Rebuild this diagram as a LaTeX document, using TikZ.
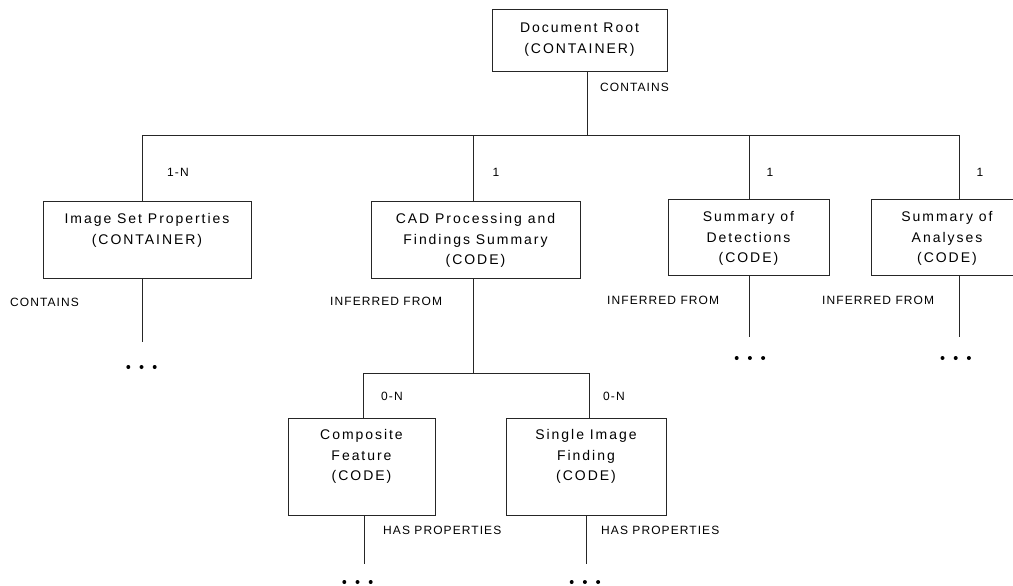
\documentclass[tikz,border=0pt]{standalone}
\usepackage{fontspec}
\setmainfont{Liberation Sans}
\newfontfamily\boxfont[LetterSpace=14]{Liberation Sans}
\newfontfamily\tagfont[LetterSpace=9]{Liberation Sans}
\begin{document}
\begin{tikzpicture}[x=1pt,y=-1pt,
  box/.style={draw=black!85, line width=0.9pt, inner sep=0pt},
  boxtxt/.style={font=\boxfont\fontsize{14}{20.5}\selectfont, align=center, inner sep=0pt, anchor=base},
  tag/.style={font=\tagfont\fontsize{12}{14}\selectfont, inner sep=0pt, anchor=base west},
  link/.style={draw=black!85, line width=0.9pt},
  dot/.style={circle, fill=black, inner sep=0pt, minimum size=4pt}]

\path[use as bounding box] (0,0) rectangle (1013,586);
\clip (0,0) rectangle (1013,586);

% ---- boxes ----
\node[box, minimum width=175pt, minimum height=62pt] (root)   at (579.5,40)   {};
\node[box, minimum width=208pt, minimum height=77pt] (isp)    at (147,239.5)  {};
\node[box, minimum width=209pt, minimum height=77pt] (cad)    at (475.5,239.5){};
\node[box, minimum width=161pt, minimum height=76pt] (det)    at (748.5,237)  {};
\node[box, minimum width=152pt, minimum height=76pt] (ana)    at (947,237)    {};
\node[box, minimum width=147pt, minimum height=97pt] (comp)   at (361.5,466.5){};
\node[box, minimum width=160pt, minimum height=97pt] (single) at (586,466.5)  {};

% ---- box texts (base = baseline of the last line) ----
\node[boxtxt] (rootT)   at ([yshift=-44.5pt]root.north) {Document Root\\(CONTAINER)};
\node[boxtxt] (ispT)    at ([yshift=-43.5pt]isp.north)  {Image Set Properties\\(CONTAINER)};
\node[boxtxt] (cadT)    at ([yshift=-64pt]cad.north)    {CAD Processing and\\Findings Summary\\(CODE)};
\node[boxtxt] (detT)    at ([yshift=-64pt]det.north)    {Summary of\\Detections\\(CODE)};
\node[boxtxt] (anaT)    at ([yshift=-64pt]ana.north)    {Summary of\\Analyses\\(CODE)};
\node[boxtxt] (compT)   at ([yshift=-63pt]comp.north)   {Composite\\Feature\\(CODE)};
\node[boxtxt] (singleT) at ([yshift=-63pt]single.north) {Single Image\\Finding\\(CODE)};

% ---- junction points ----
\coordinate (bus)   at (587,135);
\coordinate (busL)  at (142,135);
\coordinate (busC)  at (473,135);
\coordinate (busD)  at (749,135);
\coordinate (busR)  at (959,135);
\coordinate (sub)   at (473,373);
\coordinate (subL)  at (363,373);
\coordinate (subR)  at (589,373);
\coordinate (ispE)  at (142,342);
\coordinate (detE)  at (749,337);
\coordinate (anaE)  at (959,337);
\coordinate (compE) at (364,564);
\coordinate (singE) at (586,564);

% ---- connectors ----
\draw[link] (root.south -| bus) -- (bus);
\draw[link] (busL) -- (busR);
\draw[link] (busL) -- (isp.north -| busL);
\draw[link] (busC) -- (cad.north -| busC);
\draw[link] (busD) -- (det.north -| busD);
\draw[link] (busR) -- (ana.north -| busR);
\draw[link] (isp.south -| ispE) -- (ispE);
\draw[link] (cad.south -| sub) -- (sub);
\draw[link] (det.south -| detE) -- (detE);
\draw[link] (ana.south -| anaE) -- (anaE);
\draw[link] (subL) -- (subR);
\draw[link] (subL) -- (comp.north -| subL);
\draw[link] (subR) -- (single.north -| subR);
\draw[link] (comp.south -| compE) -- (compE);
\draw[link] (single.south -| singE) -- (singE);

% ---- relation labels ----
\node[tag] (lRoot)  at (600,91.3)  {CONTAINS};
\node[tag] (lIsp)   at (167,176.3) {1-N};
\node[tag] (lCad)   at (492.5,176.3) {1};
\node[tag] (lDet)   at (766.5,176.3) {1};
\node[tag] (lAna)   at (976.5,176.3) {1};
\node[tag] (lIspB)  at (10,306.3)  {CONTAINS};
\node[tag] (lCadB)  at (330,305.3) {INFERRED FROM};
\node[tag] (lDetB)  at (607,304.3) {INFERRED FROM};
\node[tag] (lAnaB)  at (822,304.3) {INFERRED FROM};
\node[tag] (lComp)  at (381,400.3) {0-N};
\node[tag] (lSing)  at (603,400.3) {0-N};
\node[tag] (lCompB) at (383,534.3) {HAS PROPERTIES};
\node[tag] (lSingB) at (601,534.3) {HAS PROPERTIES};

% ---- continuation dots ----
\foreach \n/\x/\y in {isp/128.3/367, det/736.7/358, ana/942.5/358, comp/344.3/582, sing/571.7/582}{
  \node[dot] (\n d1) at (\x,\y) {};
  \node[dot] (\n d2) at (\x+13.2,\y) {};
  \node[dot] (\n d3) at (\x+26.4,\y) {};
}
\end{tikzpicture}
\end{document}
